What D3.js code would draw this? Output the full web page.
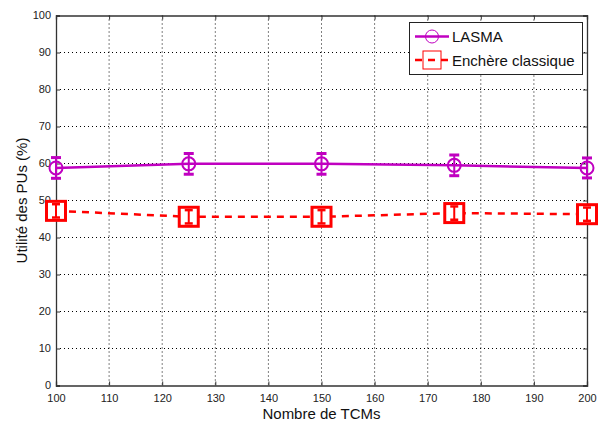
<!DOCTYPE html>
<html><head><meta charset="utf-8">
<script src="https://cdn.jsdelivr.net/npm/d3@7"></script>
<style>body{margin:0;background:#fff}svg{display:block}text{font-family:"Liberation Sans",Arial,sans-serif}</style>
</head><body><svg id="c" width="601" height="423"></svg>
<script>
const xValues = [100, 125, 150, 175, 200];
const lasma = [58.8, 59.9, 59.9, 59.5, 58.8];
const lasmaErr = [2.8, 2.8, 2.8, 2.8, 2.7];
const enchere = [47.2, 45.6, 45.6, 46.6, 46.3];
const enchereErr = [1.8, 1.8, 1.8, 1.8, 1.8];
const xTicks = [100,110,120,130,140,150,160,170,180,190,200];
const yTicks = [0,10,20,30,40,50,60,70,80,90,100];
const seriesNames = ["LASMA", "Enchère classique"];
const xLabel = "Nombre de TCMs";
const yLabel = "Utilité des PUs (%)";

const svg = d3.select("#c");
const L=56, R=587, T=15.5, B=385.5;
const x = d3.scaleLinear().domain([100,200]).range([L,R]);
const y = d3.scaleLinear().domain([0,100]).range([B,T]);
const g = svg.append("g");

// grid
g.selectAll(".gx").data(xTicks.slice(1,-1)).enter().append("line")
  .attr("x1",d=>x(d)).attr("x2",d=>x(d)).attr("y1",T).attr("y2",B)
  .attr("stroke","#000").attr("stroke-width",1).attr("stroke-dasharray","1,3");
g.selectAll(".gy").data(yTicks.slice(1,-1)).enter().append("line")
  .attr("y1",d=>y(d)).attr("y2",d=>y(d)).attr("x1",L).attr("x2",R)
  .attr("stroke","#000").attr("stroke-width",1).attr("stroke-dasharray","1,3");

// axes
const ax = g.append("g").attr("transform",`translate(0,${B})`)
  .call(d3.axisBottom(x).tickValues(xTicks).tickSize(-4).tickPadding(9));
const ay = g.append("g").attr("transform",`translate(${L},0)`)
  .call(d3.axisLeft(y).tickValues(yTicks).tickSize(-4).tickPadding(5));
const axT = g.append("g").attr("transform",`translate(0,${T})`)
  .call(d3.axisTop(x).tickValues(xTicks).tickSize(-4).tickFormat(""));
const ayR = g.append("g").attr("transform",`translate(${R},0)`)
  .call(d3.axisRight(y).tickValues(yTicks).tickSize(-4).tickFormat(""));
[ax,ay,axT,ayR].forEach(a=>{
  a.selectAll("path").attr("stroke","#333").attr("stroke-width",1.3);
  a.selectAll("line").attr("stroke","#333");
  a.selectAll("text").attr("font-size",11).attr("fill","#222")
   .attr("font-family","'Liberation Sans',Arial,sans-serif");
});
ay.selectAll("text").attr("dy","0.25em");

const magenta = "#c000c0", red = "#ff0000";
const line = d3.line().x((d,i)=>x(xValues[i])).y(d=>y(d));

// LASMA
g.append("path").datum(lasma).attr("d",line).attr("fill","none")
  .attr("stroke",magenta).attr("stroke-width",2.5);
const lg = g.selectAll(".lm").data(lasma).enter().append("g");
lg.append("line").attr("x1",(d,i)=>x(xValues[i])).attr("x2",(d,i)=>x(xValues[i]))
  .attr("y1",(d,i)=>y(d+lasmaErr[i])).attr("y2",(d,i)=>y(d-lasmaErr[i]))
  .attr("stroke",magenta).attr("stroke-width",2);
[1,-1].forEach(s=>{
  lg.append("line").attr("x1",(d,i)=>x(xValues[i])-5).attr("x2",(d,i)=>x(xValues[i])+5)
    .attr("y1",(d,i)=>y(d+s*lasmaErr[i])).attr("y2",(d,i)=>y(d+s*lasmaErr[i]))
    .attr("stroke",magenta).attr("stroke-width",3);
});
lg.append("circle").attr("cx",(d,i)=>x(xValues[i])).attr("cy",d=>y(d)).attr("r",6.5)
  .attr("fill","none").attr("stroke",magenta).attr("stroke-width",2);

// Enchère
g.append("path").datum(enchere).attr("d",line).attr("fill","none")
  .attr("stroke",red).attr("stroke-width",2.5).attr("stroke-dasharray","7,6");
const eg = g.selectAll(".em").data(enchere).enter().append("g");
eg.append("rect").attr("x",(d,i)=>x(xValues[i])-9.5).attr("y",d=>y(d)-9.5)
  .attr("width",19).attr("height",19).attr("fill","#fff")
  .attr("stroke",red).attr("stroke-width",3);
eg.append("line").attr("x1",(d,i)=>x(xValues[i])).attr("x2",(d,i)=>x(xValues[i]))
  .attr("y1",(d,i)=>y(d+enchereErr[i])).attr("y2",(d,i)=>y(d-enchereErr[i]))
  .attr("stroke",red).attr("stroke-width",2);
[1,-1].forEach(s=>{
  eg.append("line").attr("x1",(d,i)=>x(xValues[i])-4).attr("x2",(d,i)=>x(xValues[i])+4)
    .attr("y1",(d,i)=>y(d+s*enchereErr[i])).attr("y2",(d,i)=>y(d+s*enchereErr[i]))
    .attr("stroke",red).attr("stroke-width",2.5);
});

// labels
svg.append("text").attr("x",(L+R)/2).attr("y",419).attr("text-anchor","middle")
  .attr("font-size",15).attr("fill","#111").text(xLabel);
svg.append("text").attr("transform",`translate(27,${(T+B)/2}) rotate(-90)`)
  .attr("text-anchor","middle").attr("font-size",15).attr("fill","#111").text(yLabel);

// legend
const lgd = svg.append("g");
lgd.append("rect").attr("x",409.5).attr("y",22.5).attr("width",173).attr("height",52)
  .attr("fill","#fff").attr("stroke","#222").attr("stroke-width",1);
const rows = [
  {name:seriesNames[0], color:magenta, dash:null, ly:36.5},
  {name:seriesNames[1], color:red, dash:"7,6", ly:60}
];
rows.forEach((r,k)=>{
  lgd.append("line").attr("x1",415).attr("x2",449).attr("y1",r.ly).attr("y2",r.ly)
    .attr("stroke",r.color).attr("stroke-width",2.5).attr("stroke-dasharray",r.dash);
  if(k===0){
    lgd.append("circle").attr("cx",432).attr("cy",r.ly).attr("r",6.5).attr("fill","none")
      .attr("stroke",r.color).attr("stroke-width",1);
  } else {
    lgd.append("rect").attr("x",423).attr("y",r.ly-9).attr("width",18).attr("height",18)
      .attr("fill","none").attr("stroke",r.color).attr("stroke-width",1);
  }
  lgd.append("text").attr("x",452).attr("y",r.ly+5.5).attr("font-size",15).attr("fill","#111").text(r.name);
});
</script></body></html>
